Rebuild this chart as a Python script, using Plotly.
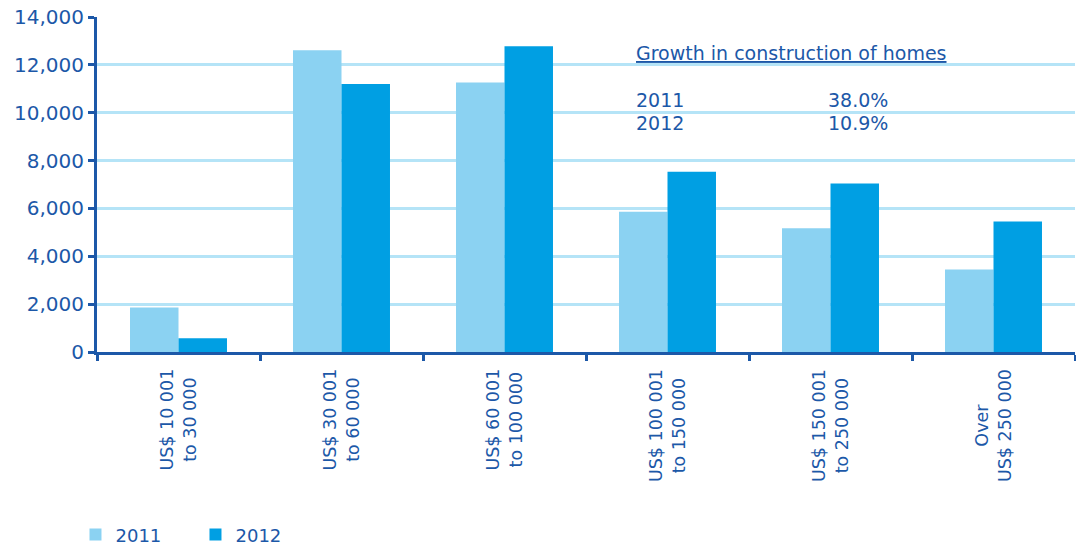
import plotly.graph_objects as go

# Homes built per price bracket
categories = [
    "US$ 10 001<br>to 30 000",
    "US$ 30 001<br>to 60 000",
    "US$ 60 001<br>to 100 000",
    "US$ 100 001<br>to 150 000",
    "US$ 150 001<br>to 250 000",
    "Over<br>US$ 250 000",
]
homes_2011 = [1860, 12610, 11260, 5860, 5170, 3450]
homes_2012 = [570, 11200, 12780, 7530, 7040, 5450]

growth_years = ["2011", "2012"]
growth_rates = ["38.0%", "10.9%"]

y_ticks = [0, 2000, 4000, 6000, 8000, 10000, 12000, 14000]

TEXT = "#1c58a8"
AXIS = "#1c58a8"
GRID = "#b5e4f7"
C2011 = "#8bd2f2"
C2012 = "#009fe3"
FONT = "DejaVu Sans"

fig = go.Figure()
fig.add_trace(go.Bar(x=categories, y=homes_2011, name="2011",
                     marker=dict(color=C2011, line=dict(width=0))))
fig.add_trace(go.Bar(x=categories, y=homes_2012, name="2012",
                     marker=dict(color=C2012, line=dict(width=0))))

fig.update_layout(
    width=1076, height=546,
    margin=dict(l=97, r=1, t=17, b=194, autoexpand=False),
    paper_bgcolor="white", plot_bgcolor="white",
    barmode="group", bargap=0.405, bargroupgap=0,
    font=dict(family=FONT, size=18, color=TEXT),
    showlegend=True,
    legend=dict(orientation="h", x=-0.022, xanchor="left",
                y=-0.546, yanchor="middle",
                font=dict(size=18, color=TEXT),
                entrywidth=75, entrywidthmode="pixels",
                itemwidth=30, traceorder="normal"),
)

fig.update_yaxes(
    range=[0, 14000], tickvals=y_ticks, tickformat=",",
    showgrid=True, gridcolor=GRID, gridwidth=3,
    showline=True, linecolor=AXIS, linewidth=3,
    ticks="outside", ticklen=6, tickwidth=3, tickcolor=AXIS,
    tickfont=dict(size=20, color=TEXT), zeroline=False,
)

fig.update_xaxes(
    showline=True, linecolor=AXIS, linewidth=3,
    ticks="outside", tickson="boundaries", ticklen=6, tickwidth=3,
    tickcolor=AXIS, showticklabels=False, showgrid=False,
)

# Rotated two-line category labels, centred under each group
for cat in categories:
    fig.add_annotation(x=cat, xref="x", y=-0.045, yref="paper",
                       text=cat, textangle=-90, showarrow=False,
                       xanchor="center", yanchor="top", align="center",
                       font=dict(size=17.5, color=TEXT))

# Growth summary box
fig.add_annotation(x=0.549, xref="paper", y=0.8925, yref="paper",
                   text='<span style="text-decoration:underline">Growth in construction of homes</span>',
                   showarrow=False, xanchor="left", yanchor="middle",
                   font=dict(size=19, color=TEXT))
row_y = [0.752, 0.683]
for yr, rate, yy in zip(growth_years, growth_rates, row_y):
    fig.add_annotation(x=0.549, xref="paper", y=yy, yref="paper", text=yr,
                       showarrow=False, xanchor="left", yanchor="middle",
                       font=dict(size=19, color=TEXT))
    fig.add_annotation(x=0.7454, xref="paper", y=yy, yref="paper", text=rate,
                       showarrow=False, xanchor="left", yanchor="middle",
                       font=dict(size=19, color=TEXT))

fig.write_html("out.html")
